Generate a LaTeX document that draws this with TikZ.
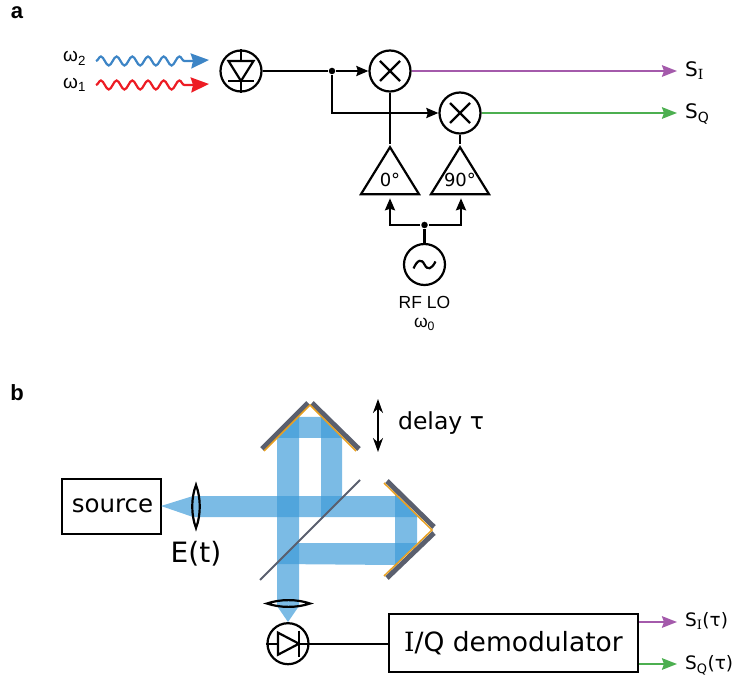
\documentclass[tikz,border=0pt]{standalone}
\usepackage{xcolor}
\usepackage{fontspec}
\setmainfont{DejaVu Sans}
\newfontfamily\arialface{Liberation Sans}
\newfontfamily\serifface{DejaVu Serif}
\usepackage{tikz}
\usetikzlibrary{positioning,arrows.meta,shapes.geometric,decorations.pathmorphing}
\definecolor{beamblue}{HTML}{3D9BD8}
\definecolor{wave2}{HTML}{3D85C6}
\definecolor{wave1}{HTML}{ED1C24}
\definecolor{sigi}{HTML}{A45AAB}
\definecolor{sigq}{HTML}{4CAF50}
\definecolor{mirrorgray}{HTML}{5A5F6E}
\definecolor{coating}{HTML}{E8A020}
\newcommand{\fsize}[1]{\fontsize{#1}{#1}\selectfont}

\begin{document}
\begin{tikzpicture}[x=1pt, y=-1pt, line width=2.2pt,
        circ/.style={draw, circle, minimum size=41pt, inner sep=0pt},
        amp/.style={draw, isosceles triangle, shape border rotate=90, isosceles triangle stretches,
            minimum width=58pt, minimum height=47pt, inner sep=0pt, line join=miter},
        dot/.style={fill, circle, minimum size=6.5pt, inner sep=0pt},
        blockbox/.style={draw, rectangle, inner sep=0pt},
        tag/.style={font=\arialface\bfseries\fsize{22}},
        siglabel/.style={anchor=west, inner sep=0pt, font=\fsize{20}},
        beam/.style={fill=beamblue, fill opacity=.68, draw=none},
        mirror/.style={line width=5pt, draw=mirrorgray},
        coat/.style={line width=1.5pt, draw=coating},
        sigarrow/.style={-{Stealth[length=15pt,width=11.5pt,inset=2pt]}},
        blackarrow/.style={-{Stealth[length=12pt,width=10pt,inset=1.5pt]}},
        wave/.style={decorate, decoration={snake, amplitude=4.5pt, segment length=15.7pt}},
        wavetip/.style={-{Stealth[length=18pt,width=15pt,inset=2pt]}}]
    \useasboundingbox (0,0) rectangle (732,679);

    % panel a
    \node[tag] (taga) at (17,13) {a};

    \node[circ] (pda) at (241,71) {};
    \node[circ] (mixi) at (390,71) {};
    \node[circ] (mixq) at (460,113) {};
    \node[amp] (ampi) at (390,178) {};
    \node[amp] (ampq) at (460,178) {};
    \node[font=\fsize{18}, inner sep=0pt] (ampitext) at (390,180) {0°};
    \node[font=\fsize{18}, inner sep=0pt] (ampqtext) at (460,180) {90°};
    \node[circ] (lo) at (424.5,264.5) {};
    \node[align=center, inner sep=0pt, font=\arialface\fsize{17.5}, below=9pt of lo] (lolabel) {RF LO\\[2pt]ω\textsubscript{0}};

    \node[dot] (split) at (332,71) {};
    \node[dot] (losplit) at (424.5,225) {};

    \coordinate (wave2in) at (96,61);
    \coordinate (wave2mid) at (190,61);
    \coordinate (wave2out) at (209,60);
    \coordinate (wave1in) at (96,85);
    \coordinate (wave1mid) at (190,85);
    \coordinate (wave1out) at (209,84);
    \coordinate (iout) at (677,71);
    \coordinate (qout) at (677,113);

    \node[anchor=east, inner sep=0pt, font=\arialface\fsize{19}] (om2) at (87,58.5) {ω\textsubscript{2}};
    \node[anchor=east, inner sep=0pt, font=\arialface\fsize{19}] (om1) at (87,85) {ω\textsubscript{1}};
    \node[siglabel] (si) at (684,71) {S\textsubscript{\serifface I}};
    \node[siglabel] (sq) at (684,114) {S\textsubscript{Q}};

    \draw[wave, wave2] (wave2in) -- (wave2mid);
    \draw[wavetip, wave2] (wave2mid) -- (wave2out);
    \draw[wave, wave1] (wave1in) -- (wave1mid);
    \draw[wavetip, wave1] (wave1mid) -- (wave1out);

    % diode glyph a
    \draw (pda.north) -- (pda.south);
    \draw[fill=white] ([shift={(-12.5,-10)}]pda.center) -- ([shift={(12.5,-10)}]pda.center) -- ([shift={(0,10)}]pda.center) -- cycle;
    \draw ([shift={(-13,10)}]pda.center) -- ([shift={(13,10)}]pda.center);

    % mixers and local oscillator
    \foreach \mix in {mixi,mixq} {
        \draw ([shift={(-10,-10)}]\mix.center) -- ([shift={(10,10)}]\mix.center);
        \draw ([shift={(-10,10)}]\mix.center) -- ([shift={(10,-10)}]\mix.center);
    }
    \draw ([shift={(-11,4)}]lo.center) .. controls ([shift={(-7,-5)}]lo.center) and ([shift={(-3,-6)}]lo.center) .. (lo.center)
        .. controls ([shift={(3,6)}]lo.center) and ([shift={(7,5)}]lo.center) .. ([shift={(11,-3)}]lo.center);

    \draw (pda.east) -- (split);
    \draw[blackarrow] (split) -- (mixi.west);
    \draw[blackarrow] (split) |- (mixq.west);
    \draw (mixi.south) -- (ampi.apex);
    \draw (mixq.south) -- (ampq.apex);
    \draw (lo.north) -- (losplit);
    \draw[blackarrow] (losplit) -| ([yshift=-3pt]ampi.south);
    \draw[blackarrow] (losplit) -| ([xshift=1pt,yshift=-3pt]ampq.south);
    \draw[sigarrow, sigi] (mixi.east) -- (iout);
    \draw[sigarrow, sigq] (mixq.east) -- (qout);

    % panel b
    \node[tag] (tagb) at (17,393) {b};

    \node[blockbox, minimum width=99pt, minimum height=55pt] (source) at (111.5,506.5) {};
    \node[inner sep=0pt, font=\fsize{24.5}] (sourcetext) at (112.5,505.5) {source};
    \node[inner sep=0pt, font=\fsize{28}] (efield) at (196,554) {E(t)};
    \node[anchor=west, inner sep=0pt, font=\fsize{23.5}] (delay) at (397,423) {delay τ};

    % beams
    \fill[beam] (161,506) -- (193,496) -- (397,496) -- (418,517) -- (193,517) -- cycle;
    \fill[beam] (277,438) -- (299,416) -- (299,606) -- (288,622) -- (277,606) -- cycle;
    \fill[beam] (277,438) -- (299,417) -- (321,417) -- (342,438) -- cycle;
    \fill[beam] (321,416) -- (342,437) -- (342,498) -- (321,519) -- cycle;
    \fill[beam] (395,494) -- (417,516) -- (417,543) -- (395,565) -- cycle;
    \fill[beam] (417,543) -- (395,565) -- (276,564) -- (297,543) -- cycle;

    % mirrors
    \draw[mirror] (262,449) -- (308,403);
    \draw[mirror] (312,403) -- (359,449);
    \draw[mirror] (387,481) -- (434,527);
    \draw[mirror] (387,578) -- (434,533);
    \draw[coat] (264,451) -- (310,405) -- (356,451);
    \draw[coat] (384,483) -- (432,530) -- (384,576);
    \draw[line width=2pt, draw=mirrorgray] (260,580) -- (360,480);

    % lenses
    \draw (196,485) .. controls (191,498) and (191,515) .. (196,528) .. controls (201,515) and (201,498) .. (196,485) -- cycle;
    \draw (267,603.5) .. controls (280,599) and (297,599) .. (310,603.5) .. controls (297,608) and (280,608) .. (267,603.5) -- cycle;

    \draw[<->, >={Stealth[length=14pt,width=10pt]}] (378,399) -- (378,452);

    % detector and demodulator
    \node[circ] (pdb) at (288,643.7) {};
    \node[blockbox, minimum width=249pt, minimum height=58pt, font=\fsize{26.5}] (demod) at (513.5,643) {{\serifface I}/Q demodulator};
    \draw (pdb.west) -- (pdb.east);
    \draw[fill=white] ([shift={(-10,-11)}]pdb.center) -- ([shift={(11,0)}]pdb.center) -- ([shift={(-10,11)}]pdb.center) -- cycle;
    \draw ([shift={(11,-13)}]pdb.center) -- ([shift={(11,13)}]pdb.center);
    \draw (pdb.east) -- (demod.west |- pdb.east);

    \coordinate (ioutb) at (677,622);
    \coordinate (qoutb) at (677,664);
    \node[siglabel, font=\fsize{18.5}] (sib) at (684,621) {S\textsubscript{\serifface I}(τ)};
    \node[siglabel, font=\fsize{18.5}] (sqb) at (684,665) {S\textsubscript{Q}(τ)};
    \draw[sigarrow, sigi] (demod.east |- ioutb) -- (ioutb);
    \draw[sigarrow, sigq] (demod.east |- qoutb) -- (qoutb);
\end{tikzpicture}
\end{document}
